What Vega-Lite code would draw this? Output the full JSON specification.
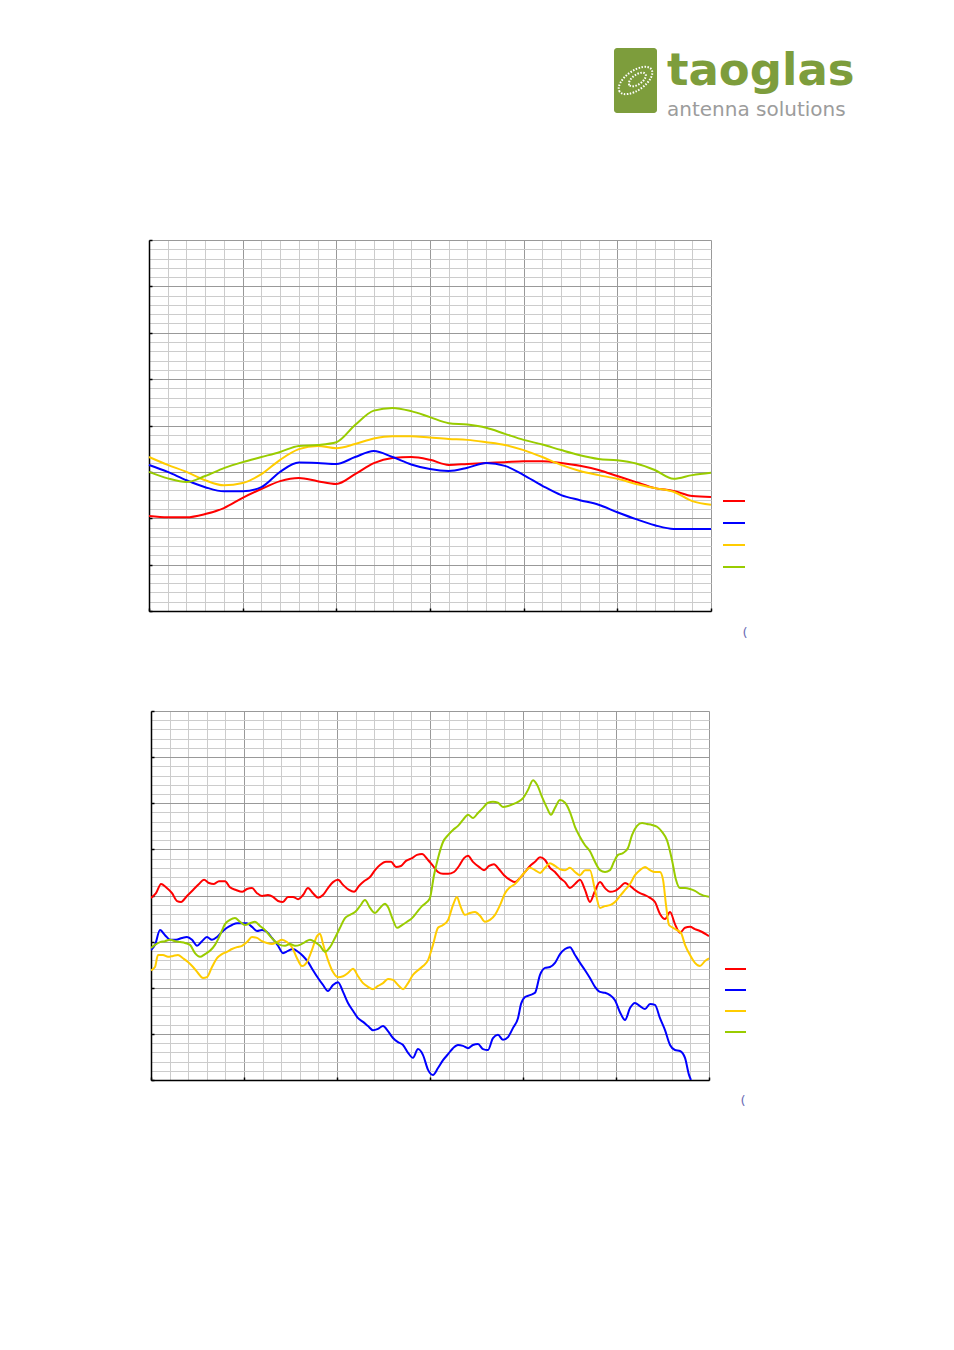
{
  "$schema": "https://vega.github.io/schema/vega-lite/v6.json",
  "padding": {"left": 145, "top": 40, "right": 0, "bottom": 0},
  "autosize": {"type": "pad"},
  "bounds": "flush",
  "center": true,
  "spacing": 100,
  "background": "white",
  "config": {"view": {"stroke": null}},
  "resolve": {"scale": {"color": "independent"}, "legend": {"color": "independent"}},
  "datasets": {
    "c1": [
      {"s":"S1","x":0,"y":20.5},{"s":"S1","x":2,"y":20.2},{"s":"S1","x":4,"y":20.2},{"s":"S1","x":6,"y":20.9},{"s":"S1","x":8,"y":22.2},{"s":"S1","x":10,"y":24.4},{"s":"S1","x":12,"y":26.3},{"s":"S1","x":14,"y":28.0},{"s":"S1","x":16,"y":28.7},{"s":"S1","x":18,"y":28.0},{"s":"S1","x":20,"y":27.4},{"s":"S1","x":22,"y":29.5},{"s":"S1","x":24,"y":31.9},{"s":"S1","x":26,"y":33.0},{"s":"S1","x":28,"y":33.2},{"s":"S1","x":30,"y":32.6},{"s":"S1","x":32,"y":31.5},{"s":"S1","x":34,"y":31.7},{"s":"S1","x":36,"y":31.9},{"s":"S1","x":38,"y":32.1},{"s":"S1","x":40,"y":32.3},{"s":"S1","x":42,"y":32.3},{"s":"S1","x":44,"y":31.9},{"s":"S1","x":46,"y":31.3},{"s":"S1","x":48,"y":30.4},{"s":"S1","x":50,"y":29.1},{"s":"S1","x":52,"y":27.8},{"s":"S1","x":54,"y":26.5},{"s":"S1","x":56,"y":25.9},{"s":"S1","x":58,"y":24.8},{"s":"S1","x":60,"y":24.6},
      {"s":"S2","x":0,"y":31.5},{"s":"S2","x":2,"y":30.0},{"s":"S2","x":4,"y":28.2},{"s":"S2","x":6,"y":26.7},{"s":"S2","x":8,"y":25.8},{"s":"S2","x":10,"y":25.8},{"s":"S2","x":12,"y":26.7},{"s":"S2","x":14,"y":30.0},{"s":"S2","x":16,"y":32.0},{"s":"S2","x":18,"y":31.9},{"s":"S2","x":20,"y":31.7},{"s":"S2","x":22,"y":33.2},{"s":"S2","x":24,"y":34.5},{"s":"S2","x":26,"y":33.2},{"s":"S2","x":28,"y":31.6},{"s":"S2","x":30,"y":30.6},{"s":"S2","x":32,"y":30.2},{"s":"S2","x":34,"y":30.9},{"s":"S2","x":36,"y":31.9},{"s":"S2","x":38,"y":31.3},{"s":"S2","x":40,"y":29.3},{"s":"S2","x":42,"y":27.0},{"s":"S2","x":44,"y":25.0},{"s":"S2","x":46,"y":23.9},{"s":"S2","x":48,"y":22.9},{"s":"S2","x":50,"y":21.3},{"s":"S2","x":52,"y":19.8},{"s":"S2","x":54,"y":18.5},{"s":"S2","x":56,"y":17.7},{"s":"S2","x":58,"y":17.7},{"s":"S2","x":60,"y":17.7},
      {"s":"S3","x":0,"y":33.2},{"s":"S3","x":2,"y":31.5},{"s":"S3","x":4,"y":30.0},{"s":"S3","x":6,"y":28.2},{"s":"S3","x":8,"y":27.1},{"s":"S3","x":10,"y":27.6},{"s":"S3","x":12,"y":29.5},{"s":"S3","x":14,"y":32.6},{"s":"S3","x":16,"y":34.9},{"s":"S3","x":18,"y":35.6},{"s":"S3","x":20,"y":35.1},{"s":"S3","x":22,"y":36.0},{"s":"S3","x":24,"y":37.2},{"s":"S3","x":26,"y":37.7},{"s":"S3","x":28,"y":37.7},{"s":"S3","x":30,"y":37.4},{"s":"S3","x":32,"y":37.1},{"s":"S3","x":34,"y":36.9},{"s":"S3","x":36,"y":36.4},{"s":"S3","x":38,"y":35.8},{"s":"S3","x":40,"y":34.7},{"s":"S3","x":42,"y":33.2},{"s":"S3","x":44,"y":31.5},{"s":"S3","x":46,"y":30.2},{"s":"S3","x":48,"y":29.3},{"s":"S3","x":50,"y":28.5},{"s":"S3","x":52,"y":27.4},{"s":"S3","x":54,"y":26.5},{"s":"S3","x":56,"y":25.7},{"s":"S3","x":58,"y":23.7},{"s":"S3","x":60,"y":22.9},
      {"s":"S4","x":0,"y":30.0},{"s":"S4","x":2,"y":28.6},{"s":"S4","x":4,"y":27.8},{"s":"S4","x":6,"y":29.1},{"s":"S4","x":8,"y":30.8},{"s":"S4","x":10,"y":32.1},{"s":"S4","x":12,"y":33.2},{"s":"S4","x":14,"y":34.3},{"s":"S4","x":16,"y":35.6},{"s":"S4","x":18,"y":35.8},{"s":"S4","x":20,"y":36.4},{"s":"S4","x":22,"y":40.1},{"s":"S4","x":24,"y":43.2},{"s":"S4","x":26,"y":43.8},{"s":"S4","x":28,"y":43.1},{"s":"S4","x":30,"y":41.8},{"s":"S4","x":32,"y":40.5},{"s":"S4","x":34,"y":40.2},{"s":"S4","x":36,"y":39.5},{"s":"S4","x":38,"y":38.2},{"s":"S4","x":40,"y":36.9},{"s":"S4","x":42,"y":35.9},{"s":"S4","x":44,"y":34.7},{"s":"S4","x":46,"y":33.6},{"s":"S4","x":48,"y":32.8},{"s":"S4","x":50,"y":32.5},{"s":"S4","x":52,"y":31.8},{"s":"S4","x":54,"y":30.4},{"s":"S4","x":56,"y":28.5},{"s":"S4","x":58,"y":29.3},{"s":"S4","x":60,"y":29.8}
    ],
    "c2": [
      {"s":"S1","x":0,"y":39.5},{"s":"S1","x":0.54,"y":40.5},{"s":"S1","x":1.08,"y":42.5},{"s":"S1","x":1.61,"y":41.8},{"s":"S1","x":2.26,"y":40.5},{"s":"S1","x":2.8,"y":38.8},{"s":"S1","x":3.23,"y":38.6},{"s":"S1","x":3.87,"y":39.9},{"s":"S1","x":4.52,"y":41.2},{"s":"S1","x":5.16,"y":42.5},{"s":"S1","x":5.7,"y":43.4},{"s":"S1","x":6.24,"y":42.7},{"s":"S1","x":6.77,"y":42.5},{"s":"S1","x":7.31,"y":43.1},{"s":"S1","x":7.96,"y":43.1},{"s":"S1","x":8.49,"y":41.8},{"s":"S1","x":9.14,"y":41.2},{"s":"S1","x":9.79,"y":40.8},{"s":"S1","x":10.32,"y":41.4},{"s":"S1","x":10.86,"y":41.6},{"s":"S1","x":11.4,"y":40.5},{"s":"S1","x":11.94,"y":39.9},{"s":"S1","x":12.58,"y":40.1},{"s":"S1","x":13.12,"y":39.7},{"s":"S1","x":13.66,"y":38.8},{"s":"S1","x":14.19,"y":38.6},{"s":"S1","x":14.73,"y":39.7},{"s":"S1","x":15.27,"y":39.7},{"s":"S1","x":15.81,"y":39.2},{"s":"S1","x":16.34,"y":40.1},{"s":"S1","x":16.88,"y":41.6},{"s":"S1","x":17.42,"y":40.5},{"s":"S1","x":17.96,"y":39.5},{"s":"S1","x":18.49,"y":40.1},{"s":"S1","x":19.03,"y":41.6},{"s":"S1","x":19.57,"y":42.9},{"s":"S1","x":20.11,"y":43.4},{"s":"S1","x":20.65,"y":42.3},{"s":"S1","x":21.29,"y":41.2},{"s":"S1","x":21.83,"y":40.8},{"s":"S1","x":22.37,"y":42.1},{"s":"S1","x":22.9,"y":43.1},{"s":"S1","x":23.55,"y":44.0},{"s":"S1","x":24.09,"y":45.5},{"s":"S1","x":24.62,"y":46.6},{"s":"S1","x":25.27,"y":47.3},{"s":"S1","x":25.81,"y":47.3},{"s":"S1","x":26.34,"y":46.2},{"s":"S1","x":26.88,"y":46.4},{"s":"S1","x":27.42,"y":47.5},{"s":"S1","x":28.07,"y":48.1},{"s":"S1","x":28.6,"y":48.8},{"s":"S1","x":29.14,"y":49.0},{"s":"S1","x":29.79,"y":47.7},{"s":"S1","x":30.32,"y":46.4},{"s":"S1","x":30.86,"y":45.1},{"s":"S1","x":31.4,"y":44.7},{"s":"S1","x":31.94,"y":44.7},{"s":"S1","x":32.58,"y":45.1},{"s":"S1","x":33.12,"y":46.4},{"s":"S1","x":33.66,"y":48.1},{"s":"S1","x":34.09,"y":48.6},{"s":"S1","x":34.62,"y":47.3},{"s":"S1","x":35.27,"y":46.2},{"s":"S1","x":35.81,"y":45.5},{"s":"S1","x":36.35,"y":46.4},{"s":"S1","x":36.88,"y":46.8},{"s":"S1","x":37.42,"y":45.7},{"s":"S1","x":37.96,"y":44.4},{"s":"S1","x":38.6,"y":43.4},{"s":"S1","x":39.14,"y":42.9},{"s":"S1","x":39.68,"y":43.8},{"s":"S1","x":40.22,"y":45.1},{"s":"S1","x":40.75,"y":46.4},{"s":"S1","x":41.29,"y":47.3},{"s":"S1","x":41.83,"y":48.3},{"s":"S1","x":42.37,"y":47.7},{"s":"S1","x":42.9,"y":46.0},{"s":"S1","x":43.44,"y":45.1},{"s":"S1","x":43.98,"y":43.8},{"s":"S1","x":44.52,"y":42.9},{"s":"S1","x":45.05,"y":41.6},{"s":"S1","x":45.59,"y":42.5},{"s":"S1","x":46.13,"y":43.4},{"s":"S1","x":46.67,"y":41.2},{"s":"S1","x":47.2,"y":38.6},{"s":"S1","x":47.74,"y":41.0},{"s":"S1","x":48.28,"y":42.9},{"s":"S1","x":48.82,"y":41.6},{"s":"S1","x":49.35,"y":40.8},{"s":"S1","x":49.89,"y":41.0},{"s":"S1","x":50.43,"y":41.8},{"s":"S1","x":50.97,"y":42.7},{"s":"S1","x":51.51,"y":42.1},{"s":"S1","x":52.04,"y":41.2},{"s":"S1","x":52.58,"y":40.5},{"s":"S1","x":53.12,"y":40.1},{"s":"S1","x":53.66,"y":39.5},{"s":"S1","x":54.19,"y":38.6},{"s":"S1","x":54.73,"y":36.0},{"s":"S1","x":55.27,"y":34.9},{"s":"S1","x":55.81,"y":36.4},{"s":"S1","x":56.34,"y":33.8},{"s":"S1","x":56.88,"y":31.9},{"s":"S1","x":57.42,"y":33.0},{"s":"S1","x":57.96,"y":33.2},{"s":"S1","x":58.49,"y":32.7},{"s":"S1","x":59.03,"y":32.3},{"s":"S1","x":60,"y":31.2},
      {"s":"S2","x":0,"y":28.2},{"s":"S2","x":0.43,"y":29.3},{"s":"S2","x":0.97,"y":32.5},{"s":"S2","x":1.51,"y":31.4},{"s":"S2","x":2.04,"y":30.4},{"s":"S2","x":2.69,"y":30.4},{"s":"S2","x":3.33,"y":30.8},{"s":"S2","x":3.87,"y":31.0},{"s":"S2","x":4.41,"y":30.4},{"s":"S2","x":4.95,"y":29.1},{"s":"S2","x":5.48,"y":30.1},{"s":"S2","x":6.02,"y":31.0},{"s":"S2","x":6.56,"y":30.4},{"s":"S2","x":7.1,"y":31.0},{"s":"S2","x":7.63,"y":32.1},{"s":"S2","x":8.17,"y":33.0},{"s":"S2","x":8.71,"y":33.6},{"s":"S2","x":9.25,"y":34.0},{"s":"S2","x":9.79,"y":34.0},{"s":"S2","x":10.32,"y":34.0},{"s":"S2","x":10.86,"y":33.2},{"s":"S2","x":11.4,"y":32.3},{"s":"S2","x":11.94,"y":32.5},{"s":"S2","x":12.47,"y":32.1},{"s":"S2","x":13.01,"y":30.8},{"s":"S2","x":13.66,"y":29.1},{"s":"S2","x":14.19,"y":27.5},{"s":"S2","x":14.73,"y":28.0},{"s":"S2","x":15.27,"y":28.4},{"s":"S2","x":15.81,"y":27.8},{"s":"S2","x":16.34,"y":26.9},{"s":"S2","x":16.88,"y":25.6},{"s":"S2","x":17.42,"y":23.8},{"s":"S2","x":17.96,"y":22.1},{"s":"S2","x":18.49,"y":20.6},{"s":"S2","x":19.03,"y":19.3},{"s":"S2","x":19.57,"y":20.6},{"s":"S2","x":20.11,"y":21.2},{"s":"S2","x":20.65,"y":19.1},{"s":"S2","x":21.18,"y":16.7},{"s":"S2","x":21.72,"y":15.0},{"s":"S2","x":22.26,"y":13.4},{"s":"S2","x":22.8,"y":12.6},{"s":"S2","x":23.33,"y":11.7},{"s":"S2","x":23.87,"y":10.8},{"s":"S2","x":24.41,"y":11.1},{"s":"S2","x":24.95,"y":11.7},{"s":"S2","x":25.48,"y":10.6},{"s":"S2","x":26.02,"y":9.1},{"s":"S2","x":26.56,"y":8.2},{"s":"S2","x":27.1,"y":7.6},{"s":"S2","x":27.64,"y":5.9},{"s":"S2","x":28.17,"y":4.8},{"s":"S2","x":28.71,"y":6.7},{"s":"S2","x":29.25,"y":5.4},{"s":"S2","x":29.79,"y":2.2},{"s":"S2","x":30.32,"y":1.1},{"s":"S2","x":30.86,"y":2.6},{"s":"S2","x":31.4,"y":4.3},{"s":"S2","x":31.94,"y":5.6},{"s":"S2","x":32.47,"y":6.9},{"s":"S2","x":33.01,"y":7.6},{"s":"S2","x":33.55,"y":7.4},{"s":"S2","x":34.09,"y":6.9},{"s":"S2","x":34.62,"y":7.6},{"s":"S2","x":35.16,"y":7.8},{"s":"S2","x":35.7,"y":6.7},{"s":"S2","x":36.24,"y":6.5},{"s":"S2","x":36.77,"y":9.1},{"s":"S2","x":37.31,"y":9.8},{"s":"S2","x":37.85,"y":8.7},{"s":"S2","x":38.39,"y":9.3},{"s":"S2","x":38.93,"y":11.3},{"s":"S2","x":39.46,"y":13.4},{"s":"S2","x":39.79,"y":16.5},{"s":"S2","x":40.22,"y":18.0},{"s":"S2","x":40.75,"y":18.4},{"s":"S2","x":41.29,"y":18.9},{"s":"S2","x":41.83,"y":22.8},{"s":"S2","x":42.37,"y":24.3},{"s":"S2","x":42.9,"y":24.5},{"s":"S2","x":43.44,"y":25.4},{"s":"S2","x":43.98,"y":27.3},{"s":"S2","x":44.52,"y":28.4},{"s":"S2","x":45.05,"y":28.8},{"s":"S2","x":45.59,"y":27.1},{"s":"S2","x":46.13,"y":25.4},{"s":"S2","x":46.67,"y":23.8},{"s":"S2","x":47.2,"y":22.1},{"s":"S2","x":47.74,"y":20.2},{"s":"S2","x":48.28,"y":19.1},{"s":"S2","x":48.82,"y":18.9},{"s":"S2","x":49.35,"y":18.4},{"s":"S2","x":49.89,"y":17.3},{"s":"S2","x":50.43,"y":14.7},{"s":"S2","x":50.97,"y":13.0},{"s":"S2","x":51.51,"y":15.6},{"s":"S2","x":52.04,"y":16.7},{"s":"S2","x":52.58,"y":16.0},{"s":"S2","x":53.12,"y":15.4},{"s":"S2","x":53.66,"y":16.5},{"s":"S2","x":54.19,"y":16.3},{"s":"S2","x":54.73,"y":13.4},{"s":"S2","x":55.27,"y":10.8},{"s":"S2","x":55.81,"y":7.6},{"s":"S2","x":56.34,"y":6.5},{"s":"S2","x":56.88,"y":6.3},{"s":"S2","x":57.42,"y":4.8},{"s":"S2","x":57.85,"y":1.1},{"s":"S2","x":58.06,"y":0},
      {"s":"S3","x":0,"y":23.8},{"s":"S3","x":0.43,"y":24.5},{"s":"S3","x":0.75,"y":27.1},{"s":"S3","x":1.29,"y":27.1},{"s":"S3","x":1.83,"y":26.7},{"s":"S3","x":2.37,"y":26.9},{"s":"S3","x":2.9,"y":27.1},{"s":"S3","x":3.44,"y":26.4},{"s":"S3","x":3.98,"y":25.6},{"s":"S3","x":4.52,"y":24.5},{"s":"S3","x":5.05,"y":23.2},{"s":"S3","x":5.59,"y":22.1},{"s":"S3","x":6.02,"y":22.3},{"s":"S3","x":6.56,"y":24.5},{"s":"S3","x":7.1,"y":26.4},{"s":"S3","x":7.63,"y":27.3},{"s":"S3","x":8.17,"y":27.8},{"s":"S3","x":8.71,"y":28.4},{"s":"S3","x":9.25,"y":28.8},{"s":"S3","x":9.79,"y":29.1},{"s":"S3","x":10.32,"y":29.9},{"s":"S3","x":10.86,"y":31.0},{"s":"S3","x":11.4,"y":30.8},{"s":"S3","x":11.94,"y":30.1},{"s":"S3","x":12.47,"y":29.7},{"s":"S3","x":13.01,"y":29.5},{"s":"S3","x":13.55,"y":29.9},{"s":"S3","x":14.09,"y":30.4},{"s":"S3","x":14.62,"y":29.9},{"s":"S3","x":15.16,"y":28.8},{"s":"S3","x":15.7,"y":26.4},{"s":"S3","x":16.24,"y":24.7},{"s":"S3","x":16.77,"y":25.6},{"s":"S3","x":17.31,"y":28.2},{"s":"S3","x":17.85,"y":31.2},{"s":"S3","x":18.17,"y":31.7},{"s":"S3","x":18.5,"y":29.5},{"s":"S3","x":19.03,"y":26.0},{"s":"S3","x":19.57,"y":23.4},{"s":"S3","x":20.11,"y":22.3},{"s":"S3","x":20.65,"y":22.5},{"s":"S3","x":21.18,"y":23.2},{"s":"S3","x":21.72,"y":24.1},{"s":"S3","x":22.26,"y":22.5},{"s":"S3","x":22.8,"y":21.0},{"s":"S3","x":23.33,"y":20.2},{"s":"S3","x":23.87,"y":19.7},{"s":"S3","x":24.41,"y":20.4},{"s":"S3","x":24.95,"y":21.0},{"s":"S3","x":25.48,"y":21.9},{"s":"S3","x":26.02,"y":21.7},{"s":"S3","x":26.56,"y":20.6},{"s":"S3","x":27.1,"y":19.7},{"s":"S3","x":27.64,"y":21.0},{"s":"S3","x":28.17,"y":22.8},{"s":"S3","x":28.71,"y":23.8},{"s":"S3","x":29.25,"y":24.7},{"s":"S3","x":29.79,"y":26.0},{"s":"S3","x":30.32,"y":29.3},{"s":"S3","x":30.86,"y":33.0},{"s":"S3","x":31.4,"y":33.6},{"s":"S3","x":31.94,"y":34.7},{"s":"S3","x":32.47,"y":37.9},{"s":"S3","x":32.9,"y":39.7},{"s":"S3","x":33.23,"y":37.9},{"s":"S3","x":33.76,"y":35.8},{"s":"S3","x":34.3,"y":36.2},{"s":"S3","x":34.84,"y":36.4},{"s":"S3","x":35.38,"y":35.6},{"s":"S3","x":35.91,"y":34.3},{"s":"S3","x":36.45,"y":34.7},{"s":"S3","x":36.99,"y":35.8},{"s":"S3","x":37.53,"y":37.9},{"s":"S3","x":38.07,"y":40.5},{"s":"S3","x":38.6,"y":41.8},{"s":"S3","x":39.14,"y":42.5},{"s":"S3","x":39.68,"y":43.8},{"s":"S3","x":40.22,"y":45.1},{"s":"S3","x":40.75,"y":46.0},{"s":"S3","x":41.29,"y":45.5},{"s":"S3","x":41.83,"y":44.9},{"s":"S3","x":42.37,"y":46.0},{"s":"S3","x":42.9,"y":47.0},{"s":"S3","x":43.44,"y":46.4},{"s":"S3","x":43.98,"y":45.7},{"s":"S3","x":44.52,"y":45.5},{"s":"S3","x":45.05,"y":46.0},{"s":"S3","x":45.59,"y":45.1},{"s":"S3","x":46.13,"y":44.4},{"s":"S3","x":46.67,"y":45.5},{"s":"S3","x":47.2,"y":45.5},{"s":"S3","x":47.74,"y":41.2},{"s":"S3","x":48.28,"y":37.3},{"s":"S3","x":48.82,"y":37.7},{"s":"S3","x":49.35,"y":37.9},{"s":"S3","x":49.89,"y":38.6},{"s":"S3","x":50.43,"y":39.9},{"s":"S3","x":50.97,"y":41.2},{"s":"S3","x":51.51,"y":42.5},{"s":"S3","x":52.04,"y":44.4},{"s":"S3","x":52.58,"y":45.5},{"s":"S3","x":53.12,"y":46.2},{"s":"S3","x":53.66,"y":45.5},{"s":"S3","x":54.19,"y":45.1},{"s":"S3","x":54.73,"y":45.1},{"s":"S3","x":55.06,"y":43.4},{"s":"S3","x":55.38,"y":37.9},{"s":"S3","x":55.7,"y":33.6},{"s":"S3","x":56.13,"y":33.0},{"s":"S3","x":56.56,"y":32.5},{"s":"S3","x":56.99,"y":31.9},{"s":"S3","x":57.42,"y":29.3},{"s":"S3","x":57.96,"y":27.1},{"s":"S3","x":58.49,"y":25.4},{"s":"S3","x":59.03,"y":24.7},{"s":"S3","x":59.57,"y":25.8},{"s":"S3","x":60,"y":26.4},
      {"s":"S4","x":0,"y":28.6},{"s":"S4","x":0.43,"y":29.3},{"s":"S4","x":0.97,"y":29.9},{"s":"S4","x":1.51,"y":30.1},{"s":"S4","x":2.04,"y":30.4},{"s":"S4","x":2.58,"y":30.1},{"s":"S4","x":3.12,"y":29.9},{"s":"S4","x":3.66,"y":29.7},{"s":"S4","x":4.19,"y":29.3},{"s":"S4","x":4.73,"y":27.5},{"s":"S4","x":5.27,"y":26.7},{"s":"S4","x":5.81,"y":27.3},{"s":"S4","x":6.34,"y":28.0},{"s":"S4","x":6.88,"y":29.3},{"s":"S4","x":7.42,"y":31.4},{"s":"S4","x":7.96,"y":33.8},{"s":"S4","x":8.49,"y":34.7},{"s":"S4","x":9.03,"y":35.1},{"s":"S4","x":9.57,"y":34.3},{"s":"S4","x":10.11,"y":33.6},{"s":"S4","x":10.65,"y":34.0},{"s":"S4","x":11.18,"y":34.3},{"s":"S4","x":11.72,"y":33.4},{"s":"S4","x":12.26,"y":32.5},{"s":"S4","x":12.8,"y":31.2},{"s":"S4","x":13.33,"y":30.1},{"s":"S4","x":13.87,"y":29.3},{"s":"S4","x":14.41,"y":29.1},{"s":"S4","x":14.95,"y":29.5},{"s":"S4","x":15.48,"y":29.1},{"s":"S4","x":16.02,"y":29.3},{"s":"S4","x":16.56,"y":29.9},{"s":"S4","x":17.1,"y":30.4},{"s":"S4","x":17.64,"y":29.9},{"s":"S4","x":18.17,"y":29.1},{"s":"S4","x":18.71,"y":27.8},{"s":"S4","x":19.25,"y":28.8},{"s":"S4","x":19.78,"y":30.8},{"s":"S4","x":20.32,"y":33.0},{"s":"S4","x":20.86,"y":35.1},{"s":"S4","x":21.4,"y":35.8},{"s":"S4","x":21.94,"y":36.4},{"s":"S4","x":22.47,"y":37.7},{"s":"S4","x":23.01,"y":39.0},{"s":"S4","x":23.55,"y":37.3},{"s":"S4","x":24.09,"y":36.2},{"s":"S4","x":24.62,"y":37.3},{"s":"S4","x":25.16,"y":38.2},{"s":"S4","x":25.48,"y":37.5},{"s":"S4","x":26.02,"y":34.7},{"s":"S4","x":26.45,"y":33.0},{"s":"S4","x":26.99,"y":33.6},{"s":"S4","x":27.53,"y":34.3},{"s":"S4","x":28.07,"y":35.1},{"s":"S4","x":28.6,"y":36.4},{"s":"S4","x":29.14,"y":37.7},{"s":"S4","x":29.68,"y":38.6},{"s":"S4","x":30.0,"y":39.5},{"s":"S4","x":30.43,"y":44.4},{"s":"S4","x":30.86,"y":48.1},{"s":"S4","x":31.4,"y":51.6},{"s":"S4","x":31.94,"y":53.1},{"s":"S4","x":32.47,"y":54.2},{"s":"S4","x":33.01,"y":55.1},{"s":"S4","x":33.55,"y":56.4},{"s":"S4","x":34.09,"y":57.5},{"s":"S4","x":34.62,"y":56.8},{"s":"S4","x":35.16,"y":57.9},{"s":"S4","x":35.7,"y":59.0},{"s":"S4","x":36.24,"y":60.1},{"s":"S4","x":36.77,"y":60.3},{"s":"S4","x":37.31,"y":60.1},{"s":"S4","x":37.85,"y":59.2},{"s":"S4","x":38.39,"y":59.4},{"s":"S4","x":38.93,"y":59.8},{"s":"S4","x":39.46,"y":60.3},{"s":"S4","x":40.0,"y":61.1},{"s":"S4","x":40.54,"y":62.9},{"s":"S4","x":41.08,"y":65.0},{"s":"S4","x":41.51,"y":64.0},{"s":"S4","x":42.04,"y":61.4},{"s":"S4","x":42.58,"y":59.0},{"s":"S4","x":43.01,"y":57.5},{"s":"S4","x":43.44,"y":59.0},{"s":"S4","x":43.98,"y":60.7},{"s":"S4","x":44.52,"y":60.1},{"s":"S4","x":45.05,"y":58.1},{"s":"S4","x":45.59,"y":54.9},{"s":"S4","x":46.13,"y":52.7},{"s":"S4","x":46.67,"y":50.9},{"s":"S4","x":47.2,"y":49.6},{"s":"S4","x":47.74,"y":47.3},{"s":"S4","x":48.28,"y":45.5},{"s":"S4","x":48.82,"y":45.1},{"s":"S4","x":49.35,"y":45.5},{"s":"S4","x":49.78,"y":47.3},{"s":"S4","x":50.22,"y":48.8},{"s":"S4","x":50.75,"y":49.2},{"s":"S4","x":51.29,"y":50.3},{"s":"S4","x":51.72,"y":53.1},{"s":"S4","x":52.26,"y":55.1},{"s":"S4","x":52.8,"y":55.7},{"s":"S4","x":53.33,"y":55.5},{"s":"S4","x":53.87,"y":55.3},{"s":"S4","x":54.41,"y":54.9},{"s":"S4","x":54.95,"y":53.8},{"s":"S4","x":55.48,"y":52.0},{"s":"S4","x":56.02,"y":47.7},{"s":"S4","x":56.45,"y":43.4},{"s":"S4","x":56.88,"y":41.6},{"s":"S4","x":57.42,"y":41.6},{"s":"S4","x":57.96,"y":41.4},{"s":"S4","x":58.49,"y":41.0},{"s":"S4","x":59.03,"y":40.3},{"s":"S4","x":60,"y":39.7}
    ]
  },
  "vconcat": [
    {
      "width": 562,
      "height": 100,
      "layer": [
        {
          "data": {"values": [{"x": 82.74, "x2": 90.39, "y": 8, "y2": 73}]},
          "mark": {"type": "rect", "cornerRadius": 3, "color": "#7d9d3c"},
          "encoding": {
            "x": {"field": "x", "type": "quantitative", "scale": {"domain": [0, 100]}, "axis": null},
            "x2": {"field": "x2"},
            "y": {"field": "y", "type": "quantitative", "scale": {"domain": [0, 100], "reverse": true}, "axis": null},
            "y2": {"field": "y2"}
          }
        },
        {
          "data": {"values": [{"x": 86.57, "y": 40.5}]},
          "mark": {"type": "point", "shape": "M -1 0 A 1 0.5 0 1 1 1 0 A 1 0.5 0 1 1 -1 0 Z", "size": 1500, "angle": -35, "filled": false, "stroke": "white", "strokeWidth": 2, "strokeDash": [1.5, 1.5], "opacity": 1},
          "encoding": {
            "x": {"field": "x", "type": "quantitative"},
            "y": {"field": "y", "type": "quantitative"}
          }
        },
        {
          "data": {"values": [{"x": 86.9, "y": 39.5}]},
          "mark": {"type": "point", "shape": "M -1 0 A 1 0.5 0 1 1 1 0 A 1 0.5 0 1 1 -1 0 Z", "size": 380, "angle": -35, "filled": false, "stroke": "white", "strokeWidth": 2, "strokeDash": [1.5, 1.5], "opacity": 1},
          "encoding": {
            "x": {"field": "x", "type": "quantitative"},
            "y": {"field": "y", "type": "quantitative"}
          }
        },
        {
          "data": {"values": [{"x": 92.17, "y": 45, "t": "taoglas"}]},
          "mark": {"type": "text", "align": "left", "baseline": "alphabetic", "font": "DejaVu Sans", "fontWeight": "bold", "fontSize": 45, "color": "#7d9d3c"},
          "encoding": {
            "x": {"field": "x", "type": "quantitative"},
            "y": {"field": "y", "type": "quantitative"},
            "text": {"field": "t"}
          }
        },
        {
          "data": {"values": [{"x": 92.17, "y": 76, "t": "antenna solutions"}]},
          "mark": {"type": "text", "align": "left", "baseline": "alphabetic", "font": "DejaVu Sans", "fontSize": 20, "color": "#9c9c9c"},
          "encoding": {
            "x": {"field": "x", "type": "quantitative"},
            "y": {"field": "y", "type": "quantitative"},
            "text": {"field": "t"}
          }
        }
      ]
    },
    {
      "width": 562,
      "height": 371,
      "data": {"name": "c1"},
      "mark": {"type": "line", "interpolate": "monotone", "strokeWidth": 2},
      "encoding": {
        "x": {
          "field": "x", "type": "quantitative",
          "scale": {"domain": [0, 60], "nice": false, "zero": false},
          "axis": {
            "values": [0,2,4,6,8,10,12,14,16,18,20,22,24,26,28,30,32,34,36,38,40,42,44,46,48,50,52,54,56,58,60],
            "labels": false, "grid": true,
            "gridColor": {"condition": {"test": "datum.value % 10 === 0", "value": "#999999"}, "value": "#cccccc"},
            "gridWidth": 1,
            "domainColor": "black", "domainWidth": 1.5,
            "tickColor": {"condition": {"test": "datum.value % 10 === 0", "value": "black"}, "value": "transparent"},
            "tickSize": -3, "tickWidth": 1.5,
            "title": "(", "titleX": 593, "titleY": 21, "titleAlign": "left", "titleBaseline": "middle",
            "titleColor": "#6b6bb5", "titleFontSize": 13, "titleFontWeight": "normal", "titleFont": "DejaVu Sans"
          }
        },
        "y": {
          "field": "y", "type": "quantitative",
          "scale": {"domain": [0, 80], "nice": false, "zero": false},
          "axis": {
            "values": [0,2,4,6,8,10,12,14,16,18,20,22,24,26,28,30,32,34,36,38,40,42,44,46,48,50,52,54,56,58,60,62,64,66,68,70,72,74,76,78,80],
            "labels": false, "grid": true, "title": null,
            "gridColor": {"condition": {"test": "datum.value % 10 === 0", "value": "#999999"}, "value": "#cccccc"},
            "gridWidth": 1,
            "domainColor": "black", "domainWidth": 1.5,
            "tickColor": {"condition": {"test": "datum.value % 10 === 0", "value": "black"}, "value": "transparent"},
            "tickSize": -3, "tickWidth": 1.5
          }
        },
        "color": {
          "field": "s", "type": "nominal",
          "scale": {"domain": ["S1", "S2", "S3", "S4"], "range": ["#ff0000", "#0000ff", "#ffcc00", "#99cc00"]},
          "legend": {
            "orient": "none", "legendX": 573, "legendY": 250, "title": null,
            "symbolType": "stroke", "symbolSize": 484, "symbolStrokeWidth": 2,
            "labelExpr": "''", "clipHeight": 22, "rowPadding": 0, "padding": 0
          }
        }
      }
    },
    {
      "width": 558,
      "height": 369,
      "data": {"name": "c2"},
      "mark": {"type": "line", "interpolate": "monotone", "strokeWidth": 2, "clip": true},
      "encoding": {
        "x": {
          "field": "x", "type": "quantitative",
          "scale": {"domain": [0, 60], "nice": false, "zero": false},
          "axis": {
            "values": [0,2,4,6,8,10,12,14,16,18,20,22,24,26,28,30,32,34,36,38,40,42,44,46,48,50,52,54,56,58,60],
            "labels": false, "grid": true,
            "gridColor": {"condition": {"test": "datum.value % 10 === 0", "value": "#999999"}, "value": "#cccccc"},
            "gridWidth": 1,
            "domainColor": "black", "domainWidth": 1.5,
            "tickColor": {"condition": {"test": "datum.value % 10 === 0", "value": "black"}, "value": "transparent"},
            "tickSize": -3, "tickWidth": 1.5,
            "title": "(", "titleX": 589, "titleY": 20, "titleAlign": "left", "titleBaseline": "middle",
            "titleColor": "#6b6bb5", "titleFontSize": 13, "titleFontWeight": "normal", "titleFont": "DejaVu Sans"
          }
        },
        "y": {
          "field": "y", "type": "quantitative",
          "scale": {"domain": [0, 80], "nice": false, "zero": false},
          "axis": {
            "values": [0,2,4,6,8,10,12,14,16,18,20,22,24,26,28,30,32,34,36,38,40,42,44,46,48,50,52,54,56,58,60,62,64,66,68,70,72,74,76,78,80],
            "labels": false, "grid": true, "title": null,
            "gridColor": {"condition": {"test": "datum.value % 10 === 0", "value": "#999999"}, "value": "#cccccc"},
            "gridWidth": 1,
            "domainColor": "black", "domainWidth": 1.5,
            "tickColor": {"condition": {"test": "datum.value % 10 === 0", "value": "black"}, "value": "transparent"},
            "tickSize": -3, "tickWidth": 1.5
          }
        },
        "color": {
          "field": "s", "type": "nominal",
          "scale": {"domain": ["S1", "S2", "S3", "S4"], "range": ["#ff0000", "#0000ff", "#ffcc00", "#99cc00"]},
          "legend": {
            "orient": "none", "legendX": 573, "legendY": 247.5, "title": null,
            "symbolType": "stroke", "symbolSize": 441, "symbolStrokeWidth": 2,
            "labelExpr": "''", "clipHeight": 21, "rowPadding": 0, "padding": 0
          }
        }
      }
    }
  ]
}
